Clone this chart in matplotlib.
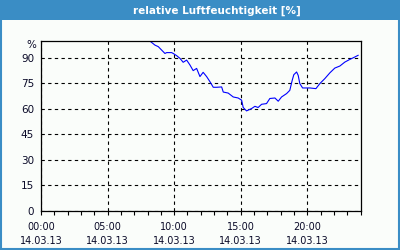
import matplotlib
matplotlib.use("Agg")
import matplotlib.pyplot as plt
from matplotlib.patches import Rectangle
from matplotlib.ticker import MultipleLocator

hours = [8.18, 8.56, 8.81, 9.06, 9.31, 9.44, 9.81, 9.93, 10.19, 10.44, 10.68, 10.94,
         11.19, 11.43, 11.69, 11.94, 12.18, 12.44, 12.69, 12.94, 13.19, 13.57, 13.69,
         14.06, 14.44, 14.81, 15.07, 15.19, 15.44, 15.82, 16.07, 16.31, 16.57, 16.94,
         17.19, 17.57, 17.82, 18.07, 18.45, 18.69, 18.87, 18.99, 19.2, 19.32, 19.44,
         19.65, 20.2, 20.65, 20.95, 21.32, 21.70, 22.07, 22.45, 22.82, 23.2, 23.57, 23.82]
humidity = [99.8, 97.4, 96.5, 94.5, 92.5, 93.0, 93.0, 92.5, 91.2, 89.6, 87.3, 88.6,
            85.7, 82.4, 83.7, 78.9, 81.4, 78.9, 75.9, 72.6, 72.6, 72.8, 69.8,
            69.2, 66.9, 66.3, 65.0, 60.7, 58.7, 60.1, 61.4, 60.7, 62.6, 63.0,
            66.0, 66.3, 64.4, 66.9, 68.9, 70.8, 76.7, 80.0, 81.6, 79.6, 74.8,
            72.2, 72.2, 71.8, 74.8, 77.7, 81.1, 83.9, 85.1, 87.4, 89.0, 90.4, 91.4]

x_ticks = [0, 5, 10, 15, 20]
x_labels = ["00:00\n14.03.13", "05:00\n14.03.13", "10:00\n14.03.13",
            "15:00\n14.03.13", "20:00\n14.03.13"]
y_ticks = [0, 15, 30, 45, 60, 75, 90]
title = "relative Luftfeuchtigkeit [%]"
unit = "%"

W, H = 400, 250
bg = "#fafdfa"
blue = "#3a8dc5"
txt = "#0a0a28"

fig = plt.figure(figsize=(W / 100, H / 100), dpi=100, facecolor=bg)

# title bar
fig.patches.append(Rectangle((0, 1 - 20 / H), 1, 20 / H, transform=fig.transFigure,
                             facecolor=blue, edgecolor="none", zorder=0))
# border
fig.patches.append(Rectangle((0.5 / W, 1.5 / H), 1 - 1.5 / W, 1 - 2 / H, transform=fig.transFigure,
                             facecolor="none", edgecolor=blue, linewidth=1.5, zorder=0))
fig.text(217 / W, 1 - 10.5 / H, title, color="white", fontsize=7.5, fontweight="bold",
         ha="center", va="center")

ax = fig.add_axes([41 / W, 1 - 210.7 / H, (360.5 - 41) / W, (210.7 - 40.7) / H])
ax.set_facecolor(bg)
ax.plot(hours, humidity, color="#0000ff", linewidth=0.8, clip_on=True)
ax.set_xlim(0, 24)
ax.set_ylim(0, 100)

ax.set_xticks(x_ticks)
ax.set_xticklabels(x_labels, fontsize=7, color=txt, linespacing=1.5)
ax.xaxis.set_minor_locator(MultipleLocator(1))
ax.tick_params(axis="x", which="both", direction="out", length=3, width=0.8, color="black", pad=5)
ax.set_yticks(y_ticks)
ax.set_yticklabels([str(v) for v in y_ticks], fontsize=7.5, color=txt)
ax.tick_params(axis="y", length=0, pad=5)

ax.grid(True, which="major", color="black", linestyle=(0, (3, 3)), linewidth=0.8)
for s in ax.spines.values():
    s.set_color("black")
    s.set_linewidth(0.9)

fig.text(36 / W, 1 - 45 / H, unit, fontsize=7.5, color=txt, ha="right", va="center")

fig.savefig("out.png", dpi=100, facecolor=bg)
